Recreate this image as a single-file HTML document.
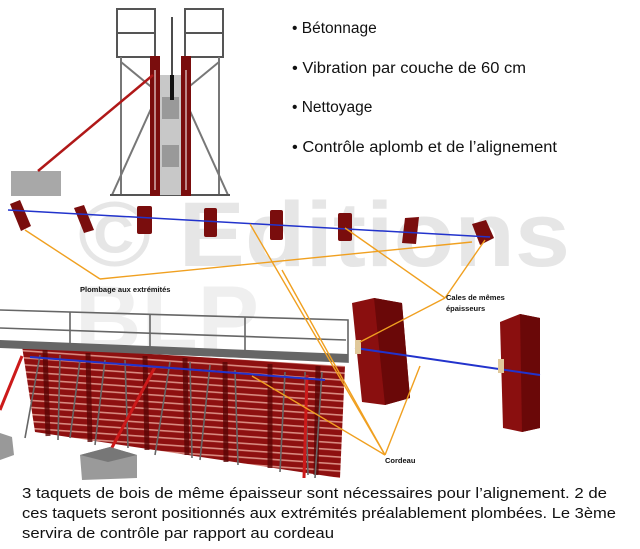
<!DOCTYPE html>
<html><head><meta charset="utf-8"><style>
html,body{margin:0;padding:0;background:#fff;}
svg{display:block;}
text{font-family:"Liberation Sans",sans-serif;}
</style></head><body>
<svg width="640" height="549" viewBox="0 0 640 549" xmlns="http://www.w3.org/2000/svg">
<defs>
<pattern id="st" width="8" height="7" patternUnits="userSpaceOnUse" patternTransform="rotate(4)">
<rect width="8" height="7" fill="#8e1010"/><rect y="4.5" width="8" height="1.6" fill="#d98a80"/>
</pattern>
</defs>
<!-- watermark -->
<text x="78" y="266" font-size="92" font-weight="bold" fill="#e6e6e6" textLength="492" lengthAdjust="spacingAndGlyphs">© Editions</text>
<text x="75" y="350" font-size="92" font-weight="bold" fill="#efefef">BLP</text>

<!-- top structure -->
<g stroke="#555" stroke-width="2" fill="#fff">
<rect x="117" y="9" width="38" height="24"/><rect x="117" y="33" width="38" height="24"/>
<rect x="185" y="9" width="38" height="24"/><rect x="185" y="33" width="38" height="24"/>
</g>
<g stroke="#777" stroke-width="2" fill="none">
<line x1="121" y1="57" x2="121" y2="195"/><line x1="219" y1="57" x2="219" y2="195"/>
<line x1="121" y1="62" x2="155" y2="90"/><line x1="219" y1="62" x2="185" y2="90"/>
<line x1="112" y1="195" x2="155" y2="100"/><line x1="228" y1="195" x2="185" y2="100"/>
<line x1="110" y1="195" x2="230" y2="195" stroke="#555"/>
</g>
<rect x="160" y="75" width="21" height="120" fill="#c8c8c8"/>
<rect x="162" y="97" width="17" height="22" fill="#999"/>
<rect x="162" y="145" width="17" height="22" fill="#999"/>
<line x1="172" y1="17" x2="172" y2="100" stroke="#111" stroke-width="1.5"/>
<rect x="170" y="75" width="4" height="25" fill="#111"/>
<rect x="150" y="56" width="10" height="140" fill="#7a0d0d"/>
<rect x="181" y="56" width="10" height="140" fill="#7a0d0d"/>
<g fill="#fff"><rect x="154" y="70" width="2" height="120" opacity=".5"/><rect x="185" y="70" width="2" height="120" opacity=".5"/></g>
<rect x="11" y="171" width="50" height="25" fill="#a8a8a8"/>
<line x1="38" y1="171" x2="153" y2="75" stroke="#b01818" stroke-width="2.5"/>

<!-- bullets -->
<g font-size="15.5" fill="#111">
<text x="292" y="33">• Bétonnage</text>
<text x="292" y="73" textLength="234" lengthAdjust="spacingAndGlyphs">• Vibration par couche de 60 cm</text>
<text x="292" y="112">• Nettoyage</text>
<text x="292" y="152" textLength="265" lengthAdjust="spacingAndGlyphs">• Contrôle aplomb et de l’alignement</text>
</g>

<!-- blocks row -->
<g fill="#7a0d0d">
<polygon points="10,204 20,200 31,226 21,231"/>
<polygon points="74,208 84,205 94,230 84,233"/>
<rect x="137" y="206" width="15" height="28" rx="2"/>
<rect x="204" y="208" width="13" height="29" rx="2"/>
<rect x="270" y="210" width="13" height="30" rx="2"/>
<rect x="338" y="213" width="14" height="28" rx="2"/>
<polygon points="405,218 419,217 416,244 402,243"/>
<polygon points="472,224 486,220 494,238 480,245"/>
</g>
<line x1="8" y1="210" x2="490" y2="237" stroke="#2233cc" stroke-width="1.5"/>

<!-- lower scene -->
<polygon points="22,346 345,366 340,478 35,432" fill="url(#st)"/>
<g stroke="#5a0505" stroke-width="5" opacity=".8">
<line x1="45" y1="350" x2="48" y2="436"/><line x1="88" y1="353" x2="90" y2="442"/><line x1="145" y1="356" x2="147" y2="450"/><line x1="185" y1="358" x2="187" y2="455"/><line x1="225" y1="362" x2="226" y2="462"/><line x1="270" y1="364" x2="270" y2="468"/><line x1="318" y1="366" x2="316" y2="475"/>
</g>
<polygon points="0,340 348,354 348,362 0,348" fill="#666"/>
<g stroke="#666" stroke-width="1.6" fill="none">
<polyline points="0,310 348,320 348,362 0,346"/>
<line x1="0" y1="328" x2="346" y2="340"/>
<line x1="70" y1="312" x2="70" y2="349"/><line x1="150" y1="315" x2="150" y2="351"/><line x1="245" y1="317" x2="245" y2="355"/>
<line x1="40" y1="355" x2="25" y2="438"/><line x1="60" y1="355" x2="58" y2="440"/><line x1="80" y1="360" x2="70" y2="438"/>
<line x1="105" y1="360" x2="95" y2="445"/><line x1="125" y1="360" x2="128" y2="448"/>
<line x1="170" y1="362" x2="155" y2="455"/><line x1="190" y1="362" x2="192" y2="458"/>
<line x1="210" y1="365" x2="200" y2="460"/><line x1="235" y1="370" x2="238" y2="465"/>
<line x1="285" y1="372" x2="280" y2="472"/><line x1="305" y1="372" x2="308" y2="475"/><line x1="322" y1="372" x2="315" y2="478"/>
</g>
<g stroke="#cc1a1a" stroke-width="3">
<line x1="22" y1="356" x2="0" y2="410"/><line x1="155" y1="367" x2="108" y2="455"/><line x1="307" y1="375" x2="304" y2="478"/>
</g>
<polygon points="80,455 110,447 137,455 137,478 82,480" fill="#9a9a9a"/>
<polygon points="80,455 110,447 137,455 108,462" fill="#777"/>
<polygon points="0,433 12,437 14,455 0,460" fill="#999"/>
<line x1="30" y1="357" x2="325" y2="380" stroke="#2233cc" stroke-width="2"/>

<!-- right blocks -->
<polygon points="352,303 374,298 402,303 410,398 385,405 362,402" fill="#8a0f0f"/>
<polygon points="374,298 402,303 410,398 385,405" fill="#6a0808"/>
<polygon points="500,322 520,314 540,318 540,428 522,432 503,428" fill="#8a0f0f"/>
<polygon points="520,314 540,318 540,428 522,432" fill="#6a0808"/>
<line x1="355" y1="348" x2="540" y2="375" stroke="#2233cc" stroke-width="2"/>
<rect x="355" y="340" width="6" height="14" fill="#e0c89a"/>
<rect x="498" y="359" width="6" height="14" fill="#e0c89a"/>

<!-- orange leaders -->
<g stroke="#f0a020" stroke-width="1.4" fill="none">
<line x1="100" y1="279" x2="25" y2="230"/>
<line x1="100" y1="279" x2="472" y2="242"/>
<line x1="445" y1="298" x2="345" y2="228"/>
<line x1="445" y1="298" x2="485" y2="240"/>
<line x1="445" y1="298" x2="360" y2="342"/>
<line x1="385" y1="455" x2="250" y2="224"/>
<line x1="385" y1="455" x2="252" y2="376"/>
<line x1="385" y1="455" x2="420" y2="366"/>
<line x1="385" y1="455" x2="282" y2="270"/>
</g>
<g font-size="7.5" font-weight="bold" fill="#111">
<text x="80" y="292">Plombage aux extrémités</text>
<text x="446" y="300">Cales de mêmes</text>
<text x="446" y="311">épaisseurs</text>
<text x="385" y="463">Cordeau</text>
</g>

<!-- caption -->
<g font-size="15" fill="#111">
<text x="22" y="498" textLength="585" lengthAdjust="spacingAndGlyphs">3 taquets de bois de même épaisseur sont nécessaires pour l’alignement. 2 de</text>
<text x="22" y="518" textLength="594" lengthAdjust="spacingAndGlyphs">ces taquets seront positionnés aux extrémités préalablement plombées. Le 3ème</text>
<text x="22" y="538" textLength="312" lengthAdjust="spacingAndGlyphs">servira de contrôle par rapport au cordeau</text>
</g>
</svg>
</body></html>
